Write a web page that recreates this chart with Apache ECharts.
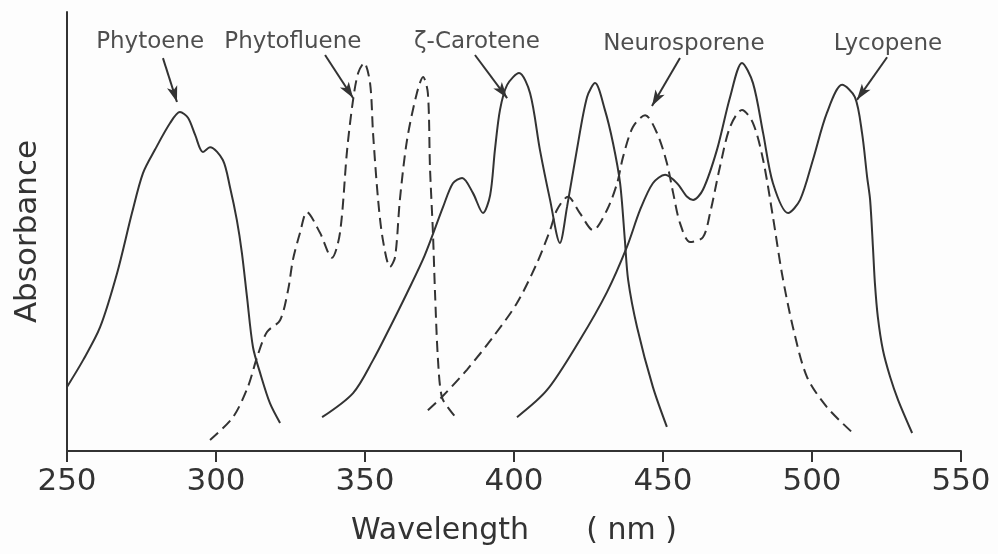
<!DOCTYPE html>
<html>
<head>
<meta charset="utf-8">
<script src="https://cdn.jsdelivr.net/npm/echarts@6/dist/echarts.min.js"></script>
<style>
  html, body { margin: 0; padding: 0; background: #fdfdfd; }
  #chart { width: 998px; height: 554px; }
</style>
</head>
<body>
<div id="chart"></div>
<script>
  // wavelength (nm) / absorbance (relative, 0-100)
  var phytoeneNm  = [250, 255.4, 261.1, 266.8, 271.8, 275.5, 279.5, 284.6, 287.9, 290.6, 293, 295.6, 298, 302.3, 304.7, 307, 308.7, 310.4, 312.4, 314.8, 318.1, 321.5]
  var phytoeneAbs = [14.6, 20.7, 28.2, 40.5, 54.2, 63.3, 68.6, 74.7, 77.2, 75.9, 72, 68.1, 69.2, 66.3, 60.1, 52.6, 45.1, 35.1, 23.7, 17.8, 10.9, 6.4]

  var phytofluNm  = [298, 305.7, 310.7, 313.8, 317.1, 321.5, 324.2, 325.8, 328.2, 330.5, 334.9, 338.9, 341.6, 344, 346, 347.7, 349.7, 351.7, 352.7, 354.4, 356, 358.4, 360.1, 361.7, 364.1, 367.4, 369.5, 371.1, 371.8, 372.8, 373.5, 374.5, 375.8, 378.5, 381.2]
  var phytofluAbs = [2.5, 7.7, 14.6, 21.4, 27.1, 29.8, 36.7, 43.5, 49.7, 54.4, 49.7, 44, 49.7, 68.6, 80, 86.1, 88.4, 83.8, 72.4, 57.2, 48.1, 41.9, 44.2, 57.2, 70.8, 81.5, 85.2, 81.5, 64.7, 49.7, 36, 20.7, 12.3, 9.3, 7.1]

  var zetaNm  = [335.6, 346, 352.7, 358.4, 364.1, 370, 376.2, 379.5, 382.6, 386.2, 389.6, 392, 393.6, 395.3, 397.7, 401.7, 405.4, 408.7, 412.1, 415.4, 417.8, 421.1, 424.5, 427.2, 430.5, 433.2, 435.6, 437.2, 438.3, 441.3, 446.6, 451.3]
  var zetaAbs = [7.7, 13.2, 20.7, 28.2, 36, 44.5, 55.6, 61, 62.2, 58.8, 54.2, 58.3, 68.6, 77.7, 83.4, 86.1, 81.5, 68.6, 57.2, 47.4, 55.6, 68.6, 80.6, 83.8, 77.7, 70.2, 61, 48.1, 39, 28.2, 14.6, 5.5]

  var neuroNm  = [371.1, 375.8, 384.2, 393, 401, 407.7, 412.1, 414.4, 418.1, 422.1, 426.5, 431.2, 434.6, 436.6, 439.9, 444, 448, 451.3, 453.4, 455.7, 459.1, 463.4, 465.8, 469.1, 472.5, 476.5, 480.2, 483.6, 486.9, 489.9, 493.6, 498.3, 505, 513.4]
  var neuroAbs = [9.3, 12.3, 18.5, 26, 33.7, 42.8, 50.3, 54.9, 57.9, 54.2, 50.3, 54.9, 61, 67, 73.8, 76.5, 72.4, 65.6, 58.8, 51.9, 47.6, 48.7, 54.2, 64.7, 73.8, 77.7, 74.7, 66.3, 53.3, 40.5, 28.2, 16.9, 10, 4.3]

  var lycopeneNm  = [401, 411.1, 422.1, 431.2, 437.9, 442.3, 446.6, 450.7, 454.7, 458.1, 460.1, 463.4, 468.1, 472.5, 476.5, 480.2, 483.6, 486.9, 492, 496, 500.3, 505, 510.1, 514.4, 516.8, 518.5, 519.5, 520.5, 521.1, 522.1, 523.8, 526.2, 528.9, 533.6]
  var lycopeneAbs = [7.7, 13.9, 25.3, 36.2, 46.5, 54.9, 61, 62.9, 61, 57.9, 57.2, 59.5, 68.6, 80.6, 88.4, 83.8, 72.4, 61, 54.2, 57.2, 66.3, 77, 83.4, 80.6, 72.4, 62.4, 57.2, 45.8, 38.3, 30.5, 23, 16.9, 11.6, 4.1]

  var xTicks = [250, 300, 350, 400, 450, 500, 550]

  // curve names and where their captions / arrows sit (data units)
  var labelNames = ['Phytoene', 'Phytofluene', 'ζ-Carotene', 'Neurosporene', 'Lycopene']
  var labelNm    = [277.9, 325.8, 387.6, 457, 525.5]
  var labelAbs   = [93.1, 93.1, 93.1, 92.7, 92.7]
  var arrowFrom  = [[282.2, 89.5], [336.6, 90.2], [386.9, 90.2], [455.7, 89.5], [525.2, 89.7]]
  var arrowTo    = [[286.9, 79.5], [346, 80.4], [397.7, 80.4], [446.3, 78.6], [515.1, 80]]

  var ink = '#333'
  var font = 'DejaVu Sans'

  function zip(xs, ys) {
    return xs.map(function (x, i) { return [x, ys[i]] })
  }

  function curve(name, xs, ys, dashed) {
    return {
      name: name,
      type: 'line',
      data: zip(xs, ys),
      smooth: 0.3,
      showSymbol: false,
      lineStyle: { color: ink, width: 2, type: dashed ? [11, 6] : 'solid' },
      z: 3
    }
  }

  var chart = echarts.init(document.getElementById('chart'))
  var option = {
    animation: false,
    backgroundColor: '#fdfdfd',
    grid: { left: 67, right: 37, top: 12, bottom: 103, containLabel: false, outerBoundsMode: 'none' },
    xAxis: {
      type: 'value',
      min: xTicks[0],
      max: xTicks[xTicks.length - 1],
      interval: 50,
      name: 'Wavelength      ( nm )',
      nameLocation: 'middle',
      nameGap: 65,
      nameTextStyle: { color: ink, fontFamily: font, fontSize: 30 },
      axisLine: { lineStyle: { color: ink, width: 2 } },
      axisTick: { show: true, length: 11, lineStyle: { color: ink, width: 2 } },
      axisLabel: { color: ink, fontFamily: font, fontSize: 31, margin: 15 },
      splitLine: { show: false }
    },
    yAxis: {
      type: 'value',
      min: 0,
      max: 100,
      name: 'Absorbance',
      nameLocation: 'middle',
      nameGap: 24,
      nameTextStyle: { color: ink, fontFamily: font, fontSize: 31 },
      axisLine: { show: true, lineStyle: { color: ink, width: 2 } },
      axisTick: { show: false },
      axisLabel: { show: false },
      splitLine: { show: false }
    },
    series: [
      curve('Phytoene', phytoeneNm, phytoeneAbs, false),
      curve('Phytofluene', phytofluNm, phytofluAbs, true),
      curve('ζ-Carotene', zetaNm, zetaAbs, false),
      curve('Neurosporene', neuroNm, neuroAbs, true),
      curve('Lycopene', lycopeneNm, lycopeneAbs, false),
      {
        name: 'captions',
        type: 'scatter',
        symbolSize: 0,
        data: labelNames.map(function (n, i) { return { name: n, value: [labelNm[i], labelAbs[i]] } }),
        label: {
          show: true,
          position: 'inside',
          formatter: '{b}',
          color: '#222',
          fontFamily: font,
          fontSize: 23
        },
        markLine: {
          silent: true,
          symbol: ['none', 'arrow'],
          symbolSize: [8, 16],
          label: { show: false },
          lineStyle: { color: ink, width: 2, type: 'solid' },
          data: arrowFrom.map(function (p, i) {
            return [{ coord: p }, { coord: arrowTo[i] }]
          })
        }
      }
    ]
  }

  chart.setOption(option)
</script>
</body>
</html>
